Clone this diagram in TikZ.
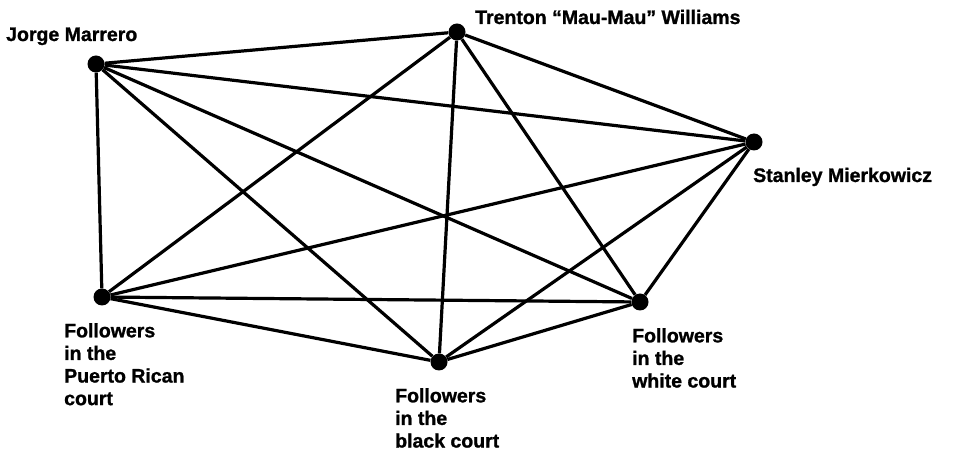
\documentclass[tikz,border=0pt]{standalone}
\usepackage{fontspec}
\setmainfont{Liberation Sans}
\newfontfamily\lblfont[FakeBold=1.2]{Liberation Sans Bold}
\begin{document}
\begin{tikzpicture}[x=1bp,y=-1bp,
  dot/.style={circle,fill=black,inner sep=0pt,minimum size=17bp},
  lbl/.style={inner sep=0pt,align=left,font=\fontsize{19.5bp}{22.6bp}\lblfont},
  edge/.style={line width=3.2bp}]
\useasboundingbox (0,0) rectangle (953,450);
\node[dot] (J) at (96,64) {};
\node[dot] (T) at (457,32) {};
\node[dot] (S) at (754,142) {};
\node[dot] (P) at (102,297) {};
\node[dot] (B) at (439,362) {};
\node[dot] (W) at (640,302) {};
\foreach \a/\b in {J/T,J/S,J/P,J/B,J/W,T/S,T/P,T/B,T/W,S/P,S/B,S/W,P/B,P/W,B/W}
  \draw[edge] (\a) -- (\b);
\node[lbl,anchor=base west] (Jl) at (6,41) {Jorge Marrero};
\node[lbl,anchor=base west] (Tl) at (475,24) {Trenton “Mau-Mau” Williams};
\node[lbl,anchor=base west] (Sl) at (753,182) {Stanley Mierkowicz};
\node[lbl,anchor=north west] (Pl) at (64,323) {Followers\\in the\\Puerto Rican\\court};
\node[lbl,anchor=north west] (Bl) at (395,388) {Followers\\in the\\black court};
\node[lbl,anchor=north west] (Wl) at (632,328) {Followers\\in the\\white court};
\end{tikzpicture}
\end{document}
